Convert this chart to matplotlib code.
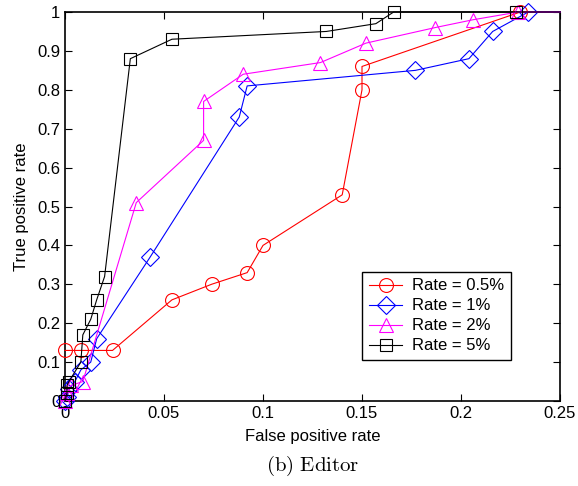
import matplotlib
matplotlib.use("Agg")
import matplotlib.pyplot as plt

plt.rcParams['font.family'] = ['Liberation Sans', 'DejaVu Sans']
plt.rcParams['mathtext.fontset'] = 'cm'

labels = ["Rate = 0.5%", "Rate = 1%", "Rate = 2%", "Rate = 5%"]
colors = ["#ff0000", "#0000ff", "#ff00ff", "#000000"]
markers = ["o", "D", "^", "s"]

fpr_05 = [0.0, 0.008, 0.024, 0.054, 0.074, 0.092, 0.100, 0.140, 0.150, 0.150, 0.230, 0.25]
tpr_05 = [0.13, 0.13, 0.13, 0.26, 0.30, 0.33, 0.40, 0.53, 0.80, 0.86, 1.0, 1.0]

fpr_1 = [0.0, 0.001, 0.002, 0.005, 0.008, 0.013, 0.016, 0.043, 0.088, 0.092, 0.177, 0.204, 0.216, 0.234, 0.25]
tpr_1 = [0.0, 0.01, 0.03, 0.05, 0.08, 0.10, 0.16, 0.37, 0.73, 0.81, 0.85, 0.88, 0.95, 1.0, 1.0]

fpr_2 = [0.0, 0.001, 0.003, 0.009, 0.036, 0.070, 0.070, 0.090, 0.129, 0.152, 0.187, 0.206, 0.229, 0.25]
tpr_2 = [0.0, 0.02, 0.04, 0.05, 0.51, 0.67, 0.77, 0.84, 0.87, 0.92, 0.96, 0.98, 1.0, 1.0]

fpr_5 = [0.0, 0.001, 0.001, 0.002, 0.008, 0.009, 0.013, 0.016, 0.020, 0.033, 0.054, 0.132, 0.157, 0.166, 0.228, 0.25]
tpr_5 = [0.0, 0.02, 0.04, 0.05, 0.10, 0.17, 0.21, 0.26, 0.32, 0.88, 0.93, 0.95, 0.97, 1.0, 1.0, 1.0]

series_x = [fpr_05, fpr_1, fpr_2, fpr_5]
series_y = [tpr_05, tpr_1, tpr_2, tpr_5]

x_ticks = [0, 0.05, 0.1, 0.15, 0.2, 0.25]
x_ticklabels = ["0", "0.05", "0.1", "0.15", "0.2", "0.25"]
y_ticks = [0, 0.1, 0.2, 0.3, 0.4, 0.5, 0.6, 0.7, 0.8, 0.9, 1.0]
y_ticklabels = ["0", "0.1", "0.2", "0.3", "0.4", "0.5", "0.6", "0.7", "0.8", "0.9", "1"]

fig = plt.figure(figsize=(5.78, 4.86), dpi=100)
ax = fig.add_axes([65/578, 1-401/486, 495/578, 389/486])

msizes = [10, 9, 10, 8]
for xs, ys, c, m, lab, ms in zip(series_x, series_y, colors, markers, labels, msizes):
    ax.plot(xs, ys, color=c, marker=m, markerfacecolor='none', markeredgecolor=c,
            markersize=ms, linewidth=0.8, markeredgewidth=0.8, label=lab,
            markevery=list(range(len(xs) - 1)), clip_on=False, zorder=3)

ax.set_xlim(0, 0.25)
ax.set_ylim(0, 1)
ax.set_xticks(x_ticks)
ax.set_xticklabels(x_ticklabels)
ax.set_yticks(y_ticks)
ax.set_yticklabels(y_ticklabels)
ax.tick_params(direction='in', top=True, right=True, labelsize=12, length=5, width=0.8)
for s in ax.spines.values():
    s.set_linewidth(1.2)

ax.set_xlabel("False positive rate", fontsize=12, labelpad=6)
ax.set_ylabel("True positive rate", fontsize=12, labelpad=6)

leg = ax.legend(loc='lower right', bbox_to_anchor=(0.901, 0.105), fontsize=12,
                frameon=True, fancybox=False, edgecolor='black', framealpha=1,
                borderaxespad=0, handlelength=2.0, labelspacing=0.3, borderpad=0.4,
                handletextpad=0.6)
leg.get_frame().set_linewidth(1.0)
leg.set_zorder(5)

fig.text((65+560)/2/578, 1-466/486, r"$\mathrm{(b)\ Editor}$", ha='center', va='center', fontsize=15)

fig.savefig("out.png", dpi=100)
